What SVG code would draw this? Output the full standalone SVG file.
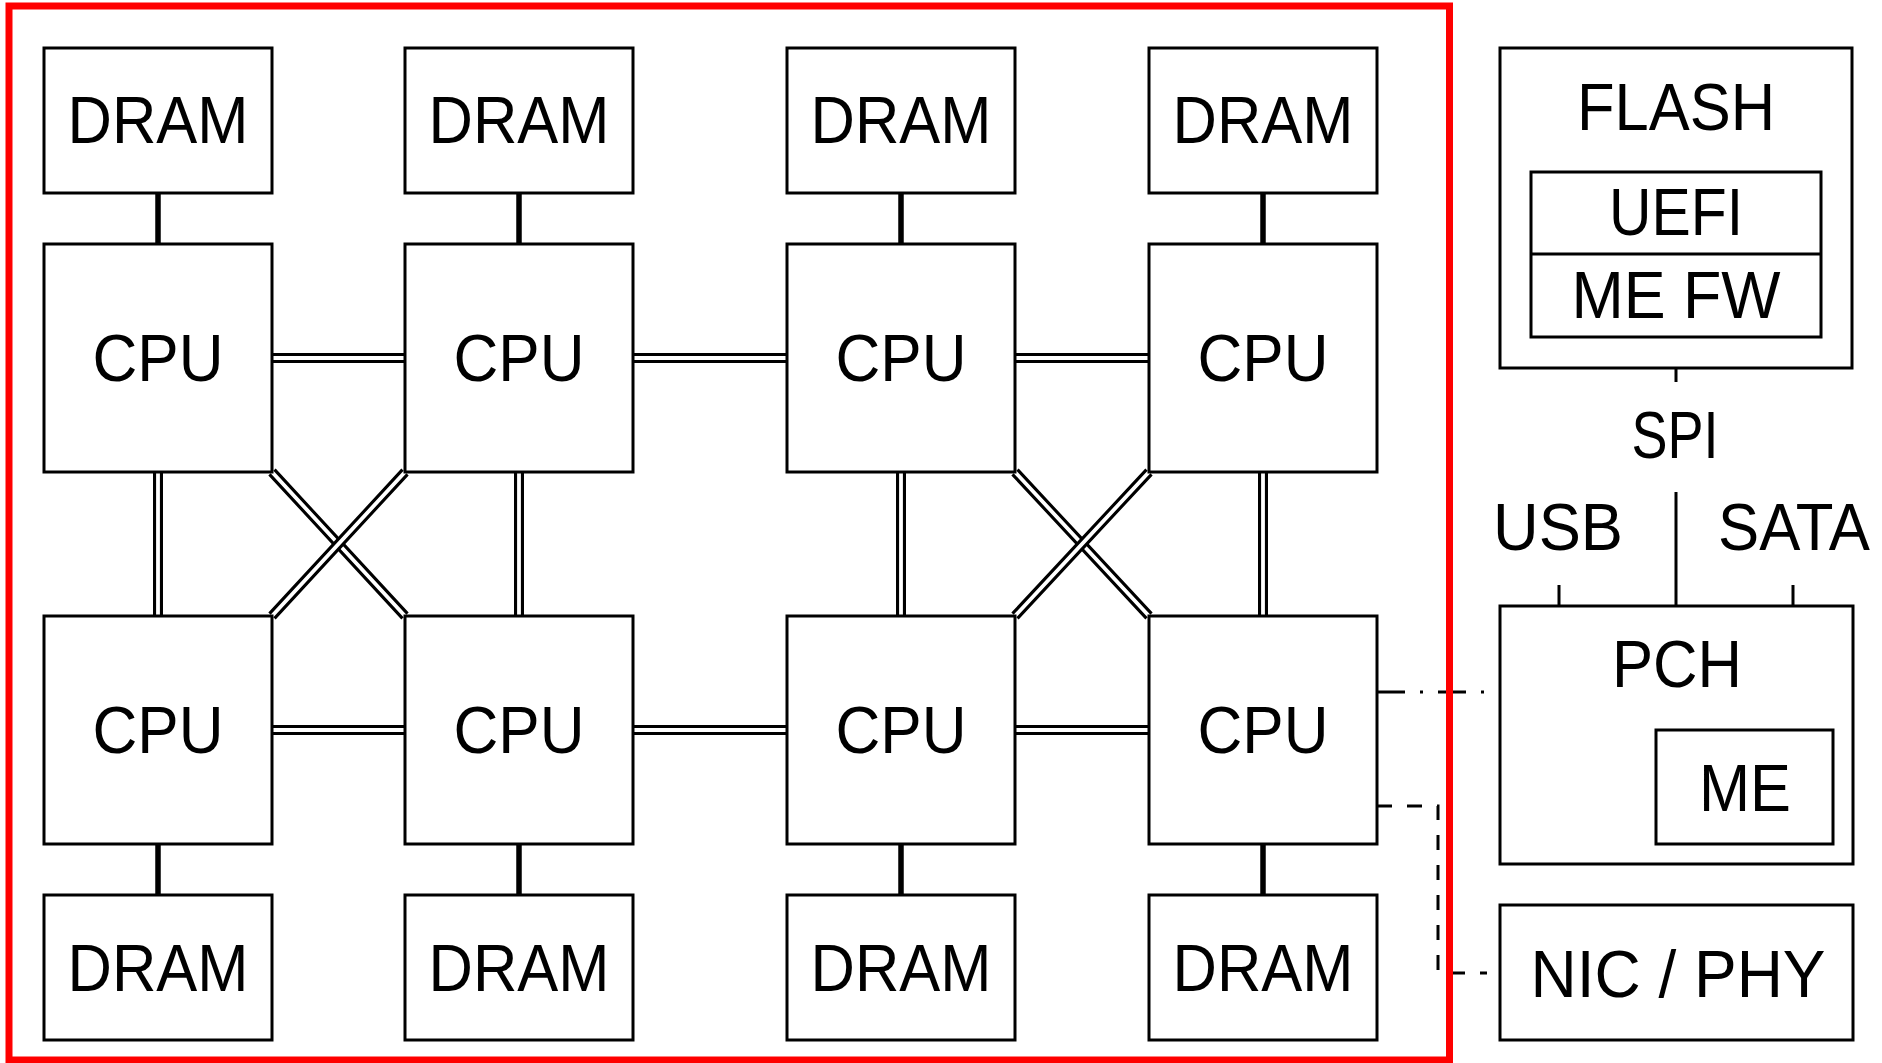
<svg xmlns="http://www.w3.org/2000/svg" width="1882" height="1063" viewBox="0 0 1882 1063">
<style>
.box{fill:#fff;stroke:#000;stroke-width:3}
.t{font-family:"Liberation Sans",Arial,sans-serif;font-size:67px;fill:#000;text-anchor:middle}
.mem{stroke:#000;stroke-width:5.5;fill:none}
.dblo{stroke:#000;stroke-width:10;fill:none}
.dbli{stroke:#fff;stroke-width:3.8;fill:none}
.thin{stroke:#000;stroke-width:3;fill:none}
</style>
<rect width="1882" height="1063" fill="#fff"/>
<g id="connectors">
  <path class="mem" d="M158 193V244M519 193V244M901 193V244M1263 193V244M158 844V895M519 844V895M901 844V895M1263 844V895"/>
  <path class="dblo" d="M272 358H405M633 358H787M1015 358H1149M272 730H405M633 730H787M1015 730H1149M158 472V616M519 472V616M901 472V616M1263 472V616"/>
  <path class="dbli" d="M272 358H405M633 358H787M1015 358H1149M272 730H405M633 730H787M1015 730H1149M158 472V616M519 472V616M901 472V616M1263 472V616"/>
  <path class="dblo" d="M272 472L405 616M1015 472L1149 616"/>
  <path class="dbli" d="M272 472L405 616M1015 472L1149 616"/>
  <path class="dblo" d="M405 472L272 616M1149 472L1015 616"/>
  <path class="dbli" d="M405 472L272 616M1149 472L1015 616"/>
  <path class="thin" d="M1676 368V382M1676 492V606M1559 585V606M1793 585V606"/>
  <path class="thin" d="M1377 692H1487" stroke-dasharray="28 15 3 15"/>
  <path class="thin" d="M1377 806H1438V973H1487" stroke-dasharray="15 15"/>
  <text class="t" x="1675" y="458" font-size="61" textLength="87" lengthAdjust="spacingAndGlyphs">SPI</text>
  <text class="t" x="1558" y="550" textLength="130" lengthAdjust="spacingAndGlyphs">USB</text>
  <text class="t" x="1794" y="550" textLength="152" lengthAdjust="spacingAndGlyphs">SATA</text>
</g>
<g id="dram-t1"><rect class="box" x="44" y="48" width="228" height="145"/><text class="t" x="158" y="143" textLength="181" lengthAdjust="spacingAndGlyphs">DRAM</text></g>
<g id="dram-t2"><rect class="box" x="405" y="48" width="228" height="145"/><text class="t" x="519" y="143" textLength="181" lengthAdjust="spacingAndGlyphs">DRAM</text></g>
<g id="dram-t3"><rect class="box" x="787" y="48" width="228" height="145"/><text class="t" x="901" y="143" textLength="181" lengthAdjust="spacingAndGlyphs">DRAM</text></g>
<g id="dram-t4"><rect class="box" x="1149" y="48" width="228" height="145"/><text class="t" x="1263" y="143" textLength="181" lengthAdjust="spacingAndGlyphs">DRAM</text></g>
<g id="cpu-t1"><rect class="box" x="44" y="244" width="228" height="228"/><text class="t" x="158" y="381" textLength="131" lengthAdjust="spacingAndGlyphs">CPU</text></g>
<g id="cpu-t2"><rect class="box" x="405" y="244" width="228" height="228"/><text class="t" x="519" y="381" textLength="131" lengthAdjust="spacingAndGlyphs">CPU</text></g>
<g id="cpu-t3"><rect class="box" x="787" y="244" width="228" height="228"/><text class="t" x="901" y="381" textLength="131" lengthAdjust="spacingAndGlyphs">CPU</text></g>
<g id="cpu-t4"><rect class="box" x="1149" y="244" width="228" height="228"/><text class="t" x="1263" y="381" textLength="131" lengthAdjust="spacingAndGlyphs">CPU</text></g>
<g id="cpu-b1"><rect class="box" x="44" y="616" width="228" height="228"/><text class="t" x="158" y="753" textLength="131" lengthAdjust="spacingAndGlyphs">CPU</text></g>
<g id="cpu-b2"><rect class="box" x="405" y="616" width="228" height="228"/><text class="t" x="519" y="753" textLength="131" lengthAdjust="spacingAndGlyphs">CPU</text></g>
<g id="cpu-b3"><rect class="box" x="787" y="616" width="228" height="228"/><text class="t" x="901" y="753" textLength="131" lengthAdjust="spacingAndGlyphs">CPU</text></g>
<g id="cpu-b4"><rect class="box" x="1149" y="616" width="228" height="228"/><text class="t" x="1263" y="753" textLength="131" lengthAdjust="spacingAndGlyphs">CPU</text></g>
<g id="dram-b1"><rect class="box" x="44" y="895" width="228" height="145"/><text class="t" x="158" y="991" textLength="181" lengthAdjust="spacingAndGlyphs">DRAM</text></g>
<g id="dram-b2"><rect class="box" x="405" y="895" width="228" height="145"/><text class="t" x="519" y="991" textLength="181" lengthAdjust="spacingAndGlyphs">DRAM</text></g>
<g id="dram-b3"><rect class="box" x="787" y="895" width="228" height="145"/><text class="t" x="901" y="991" textLength="181" lengthAdjust="spacingAndGlyphs">DRAM</text></g>
<g id="dram-b4"><rect class="box" x="1149" y="895" width="228" height="145"/><text class="t" x="1263" y="991" textLength="181" lengthAdjust="spacingAndGlyphs">DRAM</text></g>
<g id="flash">
  <rect class="box" x="1500" y="48" width="352" height="320"/>
  <text class="t" x="1676" y="130" textLength="198" lengthAdjust="spacingAndGlyphs">FLASH</text>
  <rect class="box" x="1531" y="172" width="290" height="165"/>
  <path class="thin" d="M1531 254H1821"/>
  <text class="t" x="1676" y="235" textLength="134" lengthAdjust="spacingAndGlyphs">UEFI</text>
  <text class="t" x="1676" y="318" textLength="209" lengthAdjust="spacingAndGlyphs">ME FW</text>
</g>
<g id="pch">
  <rect class="box" x="1500" y="606" width="353" height="258"/>
  <text class="t" x="1677" y="687" textLength="130" lengthAdjust="spacingAndGlyphs">PCH</text>
  <g id="me">
    <rect class="box" x="1656" y="730" width="177" height="114"/>
    <text class="t" x="1745" y="811" textLength="92" lengthAdjust="spacingAndGlyphs">ME</text>
  </g>
</g>
<g id="nic">
  <rect class="box" x="1500" y="905" width="353" height="135"/>
  <text class="t" x="1678" y="997" textLength="295" lengthAdjust="spacingAndGlyphs">NIC / PHY</text>
</g>
<rect id="socket-boundary" x="9" y="6" width="1440.5" height="1054" fill="none" stroke="#ff0000" stroke-width="7"/>
</svg>
